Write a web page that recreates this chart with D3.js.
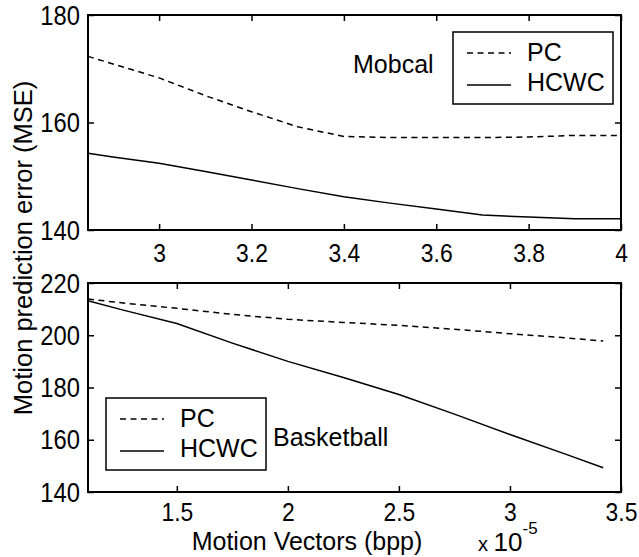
<!DOCTYPE html>
<html>
<head>
<meta charset="utf-8">
<script src="https://cdn.jsdelivr.net/npm/d3@7"></script>
<style>
  body { margin: 0; background: #fff; }
  svg { display: block; font-family: "Liberation Sans", Arial, sans-serif; }
</style>
</head>
<body>
<svg id="chart" width="639" height="557"></svg>
<script>
// --- Data ---
const seriesNames = ["PC", "HCWC"];

// Mobcal panel
const topX    = [2.846, 2.9, 3.0, 3.1, 3.2, 3.3, 3.4, 3.5, 3.6, 3.7, 3.8, 3.9, 4.0];
const topPC   = [172.3, 170.9, 168.3, 165.0, 162.0, 159.2, 157.4, 157.2, 157.2, 157.2, 157.3, 157.6, 157.6];
const topHCWC = [154.3, 153.6, 152.4, 150.9, 149.3, 147.7, 146.2, 145.0, 143.9, 142.8, 142.4, 142.1, 142.1];
const topXTicks = [3, 3.2, 3.4, 3.6, 3.8, 4];
const topYTicks = [140, 160, 180];

// Basketball panel (x in units of 1e-5 bpp)
const botX    = [1.1, 1.25, 1.5, 1.75, 2.0, 2.25, 2.5, 2.75, 3.0, 3.25, 3.42];
const botPC   = [213.9, 212.4, 210.3, 208.0, 206.1, 204.9, 203.8, 202.3, 200.6, 199.0, 197.8];
const botHCWC = [213.2, 209.8, 204.5, 197.0, 190.0, 183.8, 177.3, 169.8, 162.0, 154.5, 149.3];
const botXTicks = [1.5, 2, 2.5, 3, 3.5];
const botYTicks = [140, 160, 180, 200, 220];

// --- Setup ---
const svg = d3.select("#chart");
const fmt = d3.format("~g");
const TICK = 6;
const SQUEEZE = "scale(0.88,1)";

function drawPanel(cfg) {
  const x = d3.scaleLinear().domain(cfg.xDomain).range([cfg.left, cfg.right]);
  const y = d3.scaleLinear().domain(cfg.yDomain).range([cfg.bottom, cfg.top]);
  const g = svg.append("g");

  // inward ticks on all four sides (box on)
  const bottomAx = g.append("g").attr("transform", `translate(0,${cfg.bottom})`)
    .call(d3.axisBottom(x).tickValues(cfg.xTicks).tickFormat(fmt).tickSize(-TICK));
  const leftAx = g.append("g").attr("transform", `translate(${cfg.left},0)`)
    .call(d3.axisLeft(y).tickValues(cfg.yTicks).tickFormat(fmt).tickSize(-TICK));
  g.append("g").attr("transform", `translate(0,${cfg.top})`)
    .call(d3.axisTop(x).tickValues(cfg.xTicks).tickFormat("").tickSize(-TICK));
  g.append("g").attr("transform", `translate(${cfg.right},0)`)
    .call(d3.axisRight(y).tickValues(cfg.yTicks).tickFormat("").tickSize(-TICK));

  g.selectAll(".domain").remove();
  g.selectAll(".tick line").attr("stroke", "#000").attr("stroke-width", 1.5);

  bottomAx.selectAll("text")
    .attr("y", cfg.tickBaseline - cfg.bottom).attr("dy", null)
    .attr("transform", SQUEEZE)
    .attr("fill", "#000").attr("font-size", 26)
    .attr("font-family", "Liberation Sans, Arial, sans-serif");
  leftAx.selectAll("text")
    .attr("x", -9.1).attr("dy", "0.34em")
    .attr("transform", SQUEEZE)
    .attr("fill", "#000").attr("font-size", 27)
    .attr("font-family", "Liberation Sans, Arial, sans-serif");

  // frame
  g.append("rect")
    .attr("x", cfg.left).attr("y", cfg.top)
    .attr("width", cfg.right - cfg.left).attr("height", cfg.bottom - cfg.top)
    .attr("fill", "none").attr("stroke", "#000").attr("stroke-width", 2);

  const line = d3.line().x(d => x(d[0])).y(d => y(d[1]));

  g.append("path")
    .datum(d3.zip(cfg.xs, cfg.pc))
    .attr("d", line)
    .attr("fill", "none").attr("stroke", "#000").attr("stroke-width", 1.5)
    .attr("stroke-dasharray", "6,4.5");
  g.append("path")
    .datum(d3.zip(cfg.xs, cfg.hcwc))
    .attr("d", line)
    .attr("fill", "none").attr("stroke", "#000").attr("stroke-width", 1.5);

  // legend
  const lg = g.append("g").attr("transform", `translate(${cfg.legend[0]},${cfg.legend[1]})`);
  lg.append("rect")
    .attr("width", 160).attr("height", 72)
    .attr("fill", "#fff").attr("stroke", "#000").attr("stroke-width", 1.5);
  const rows = [{dash: "6,4.5", ly: 21, ty: 29}, {dash: null, ly: 53, ty: 59}];
  rows.forEach((r, i) => {
    lg.append("line")
      .attr("x1", 14).attr("x2", 58).attr("y1", r.ly).attr("y2", r.ly)
      .attr("stroke", "#000").attr("stroke-width", 1.5)
      .attr("stroke-dasharray", r.dash);
    lg.append("text")
      .attr("x", 74).attr("y", r.ty)
      .attr("font-size", 25).text(seriesNames[i]);
  });

  // sequence name
  g.append("text")
    .attr("x", cfg.note[0]).attr("y", cfg.note[1])
    .attr("font-size", 25).text(cfg.name);
}

drawPanel({
  name: "Mobcal",
  left: 88, right: 621, top: 15, bottom: 230,
  xDomain: [2.846, 4], yDomain: [140, 180],
  xs: topX, pc: topPC, hcwc: topHCWC,
  xTicks: topXTicks, yTicks: topYTicks,
  tickBaseline: 262,
  legend: [453, 32],
  note: [353, 73]
});

drawPanel({
  name: "Basketball",
  left: 88, right: 621, top: 283, bottom: 492,
  xDomain: [1.1, 3.5], yDomain: [140, 220],
  xs: botX, pc: botPC, hcwc: botHCWC,
  xTicks: botXTicks, yTicks: botYTicks,
  tickBaseline: 521,
  legend: [106, 398],
  note: [273, 446]
});

// shared axis titles
svg.append("text")
  .attr("x", 307).attr("y", 550)
  .attr("text-anchor", "middle").attr("font-size", 25)
  .text("Motion Vectors (bpp)");

svg.append("text")
  .attr("transform", "translate(32,248) rotate(-90)")
  .attr("text-anchor", "middle").attr("font-size", 25.5)
  .text("Motion prediction error (MSE)");

// exponent label
const expo = svg.append("text").attr("x", 478).attr("y", 551).attr("font-size", 26);
expo.append("tspan").attr("font-size", 20).text("x ");
expo.append("tspan").text("10");
expo.append("tspan").attr("font-size", 17).attr("dy", -17).text("-5");
</script>
</body>
</html>
